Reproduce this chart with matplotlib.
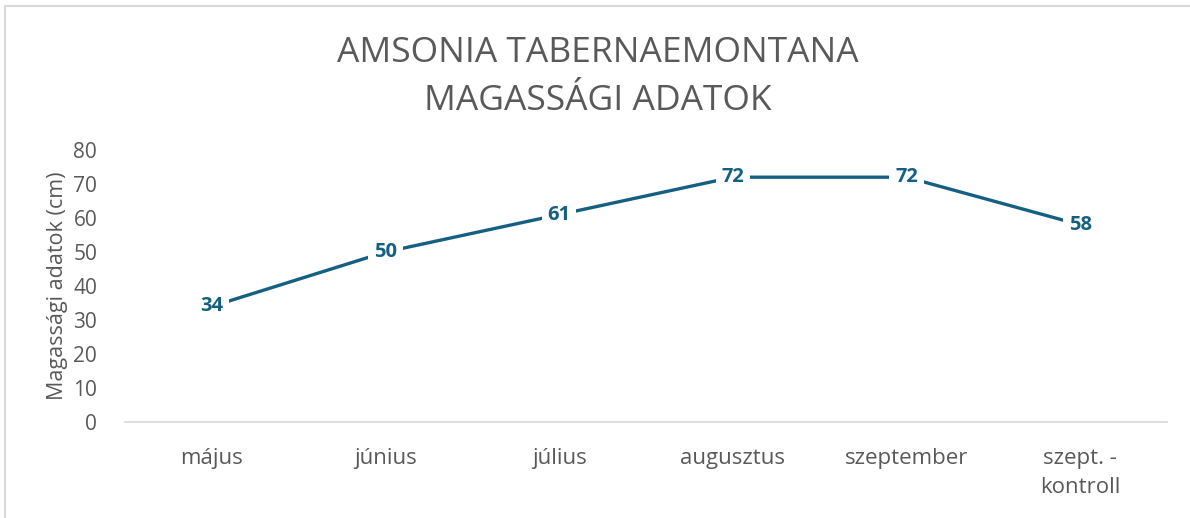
import matplotlib.pyplot as plt
from matplotlib.patches import Rectangle

# Data
months = ['május', 'június', 'július', 'augusztus', 'szeptember', 'szept. -\nkontroll']
heights = [34, 50, 61, 72, 72, 58]

line_color = '#156082'
text_color = '#595959'

plt.rcParams['font.family'] = ['Open Sans', 'DejaVu Sans']

fig = plt.figure(figsize=(11.9, 5.18), dpi=100)
ax = fig.add_axes([125 / 1190, 1 - 422 / 518, 1042 / 1190, 272 / 518])

x = list(range(len(months)))
ax.plot(x, heights, color=line_color, linewidth=2.4, solid_capstyle='butt')
for xi, h in zip(x, heights):
    ax.text(xi, h, str(h), ha='center', va='center', fontsize=14.5, fontweight='bold',
            color=line_color, bbox=dict(facecolor='white', edgecolor='none', pad=4))

ax.set_xlim(-0.5, len(months) - 0.5)
ax.set_ylim(0, 80)
ax.set_yticks(range(0, 81, 10))
ax.set_xticks(x)
ax.set_xticklabels(months, linespacing=1.45, fontsize=16)
ax.tick_params(axis='both', length=0, labelsize=15, labelcolor=text_color)
ax.tick_params(axis='x', pad=19, labelsize=16)
ax.tick_params(axis='y', pad=20)
for side in ['top', 'right', 'left']:
    ax.spines[side].set_visible(False)
ax.spines['bottom'].set_color('#D9D9D9')
ax.spines['bottom'].set_linewidth(1.2)

ax.set_ylabel('Magassági adatok (cm)', fontsize=15.5, color=text_color, labelpad=4)

fig.text(0.502, 1 - 77 / 518, 'AMSONIA TABERNAEMONTANA\nMAGASSÁGI ADATOK', ha='center', va='center',
         fontsize=25.5, color=text_color, linespacing=1.5)

fig.patches.append(Rectangle((5 / 1190, -0.1), 1.2, 1 - 6 / 518 + 0.1, transform=fig.transFigure,
                             fill=False, edgecolor='#D9D9D9', linewidth=1.5))

fig.savefig('out.png', dpi=100)
